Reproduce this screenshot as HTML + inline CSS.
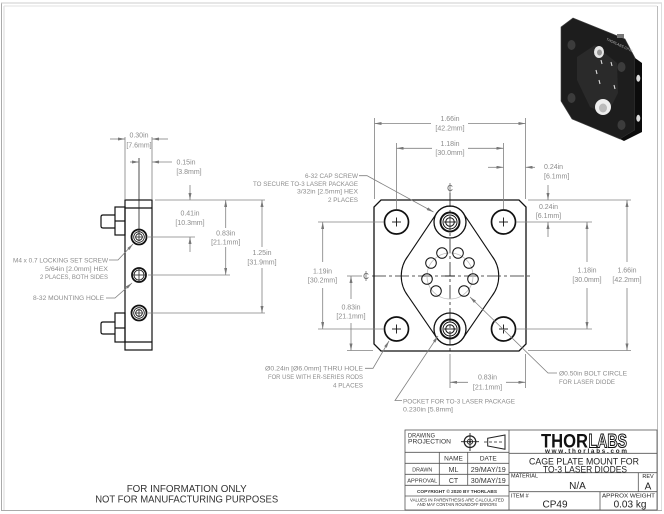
<!DOCTYPE html>
<html><head><meta charset="utf-8">
<style>
html,body{margin:0;padding:0;background:#fff;}
svg{display:block;}
text{font-family:"Liberation Sans",sans-serif;}
</style></head>
<body>
<svg width="664" height="514" viewBox="0 0 664 514" xmlns="http://www.w3.org/2000/svg">
<defs>
<marker id="a" viewBox="0 0 7 3" refX="7" refY="1.5" markerWidth="7" markerHeight="3" markerUnits="userSpaceOnUse" orient="auto"><path d="M0,0 L7,1.5 L0,3 z" fill="#777"/></marker>
</defs>
<rect width="664" height="514" fill="#fff"/>

<!-- page border -->
<line x1="1.5" y1="3" x2="1.5" y2="511" stroke="#aaa"/>
<line x1="4" y1="6" x2="4" y2="510" stroke="#d8d8d8"/>
<line x1="1" y1="3" x2="662" y2="3" stroke="#ccc"/>
<line x1="4" y1="6" x2="657" y2="6" stroke="#e2e2e2"/>
<line x1="657.5" y1="6" x2="657.5" y2="510" stroke="#bbb"/>
<line x1="661.5" y1="3" x2="661.5" y2="511" stroke="#ddd"/>
<line x1="1" y1="510.5" x2="662" y2="510.5" stroke="#aaa"/>

<!-- 3D picture -->
<g>
<polygon points="561,27 573,18 625,39 635,58 635,130 620,139 572,119 561,101" fill="#1d1d1d" stroke="#444" stroke-width="0.6"/>
<polygon points="635,58 642,63 642,132 624,141 620,139 635,130" fill="#0c0c0c"/>
<polygon points="577,57 595,45 617,63 618,93 607,115 590,107 577,80" fill="#2a2a2a"/>
<ellipse cx="571.5" cy="45" rx="4" ry="5" fill="#3c3c3c"/>
<ellipse cx="571.5" cy="98" rx="4" ry="5" fill="#3c3c3c"/>
<ellipse cx="621.5" cy="67" rx="4" ry="5" fill="#3c3c3c"/>
<ellipse cx="621.5" cy="125" rx="4" ry="5" fill="#3c3c3c"/>
<ellipse cx="599" cy="52" rx="5" ry="6" fill="#e6e6e6"/>
<ellipse cx="599.5" cy="52.5" rx="2.5" ry="3" fill="#999"/>
<ellipse cx="603" cy="107" rx="8" ry="8" fill="#eee"/>
<ellipse cx="603" cy="108" rx="4" ry="4.5" fill="#bbb"/>
<ellipse cx="638.3" cy="78.3" rx="2" ry="3.5" fill="#ddd"/>
<ellipse cx="638.3" cy="118.3" rx="2" ry="3.5" fill="#ddd"/>
<rect x="617" y="34" width="7" height="4" fill="#777"/>
<g stroke="#ddd" stroke-width="1.1">
<line x1="601" y1="60" x2="602" y2="64"/>
<line x1="596" y1="70" x2="597" y2="74"/>
<line x1="599" y1="80" x2="600" y2="84"/>
<line x1="611" y1="62" x2="612" y2="66"/>
<line x1="614" y1="85" x2="615" y2="89"/>
</g>
<text x="606" y="40" font-size="3.5" fill="#bbb" transform="rotate(25 606 40)">THORLABS CP49</text>
</g>

<!-- ===== LEFT SIDE VIEW ===== -->
<g stroke="#111" stroke-width="1.2" fill="none">
<rect x="125" y="200" width="27" height="150"/>
<line x1="125" y1="208" x2="152" y2="208"/>
<line x1="125" y1="342" x2="152" y2="342"/>
<rect x="115" y="207" width="10" height="28"/>
<line x1="115" y1="221" x2="125" y2="221"/>
<path d="M115,215 H103 Q101,215 101,217 V226 Q101,228 103,228 H115"/>
<rect x="115" y="313" width="10" height="29"/>
<line x1="115" y1="328" x2="125" y2="328"/>
<path d="M115,322 H103 Q101,322 101,324 V332 Q101,334 103,334 H115"/>
<circle cx="139" cy="237" r="7.5" stroke-width="1.8"/>
<circle cx="139" cy="237" r="5.3" stroke-width="0.8"/>
<circle cx="139" cy="237" r="3.3" stroke-width="0.8"/>
<circle cx="139" cy="313" r="7.5" stroke-width="1.8"/>
<circle cx="139" cy="313" r="5.3" stroke-width="0.8"/>
<circle cx="139" cy="313" r="3.3" stroke-width="0.8"/>
<circle cx="139" cy="275" r="7" stroke-width="1.8"/>
<circle cx="139" cy="275" r="5" stroke-width="0.8"/>
</g>
<g stroke="#222" stroke-width="0.8">
<line x1="139" y1="158" x2="139" y2="241"/>
<line x1="135" y1="237" x2="143" y2="237"/>
<line x1="135" y1="313" x2="143" y2="313"/>
<line x1="139" y1="309" x2="139" y2="317"/>
<line x1="133" y1="275" x2="145" y2="275"/>
<line x1="139" y1="269" x2="139" y2="281"/>
</g>

<!-- left view dims -->
<g stroke="#808080" stroke-width="0.8" fill="none">
<line x1="125" y1="137" x2="125" y2="199"/>
<line x1="152" y1="137" x2="152" y2="199"/>
<line x1="110" y1="139" x2="125" y2="139" marker-end="url(#a)"/>
<line x1="168" y1="139" x2="152" y2="139" marker-end="url(#a)"/>
<line x1="130" y1="162" x2="139" y2="162" marker-end="url(#a)"/>
<line x1="172" y1="162" x2="152" y2="162" marker-end="url(#a)"/>
<line x1="155" y1="200" x2="265" y2="200"/>
<line x1="148" y1="237" x2="195" y2="237"/>
<line x1="148" y1="275" x2="230" y2="275"/>
<line x1="148" y1="313" x2="265" y2="313"/>
<line x1="190" y1="185" x2="190" y2="200" marker-end="url(#a)"/>
<line x1="190" y1="252" x2="190" y2="237" marker-end="url(#a)"/>
<line x1="225.7" y1="228" x2="225.7" y2="200" marker-end="url(#a)"/>
<line x1="225.7" y1="247" x2="225.7" y2="275" marker-end="url(#a)"/>
<line x1="262" y1="247" x2="262" y2="200" marker-end="url(#a)"/>
<line x1="262" y1="268" x2="262" y2="313" marker-end="url(#a)"/>
<!-- leaders -->
<polyline points="109,260 118,260 133,244" marker-end="url(#a)"/>
<polyline points="106,298 115,298 132,283" marker-end="url(#a)"/>
</g>
<g font-size="7" fill="#8c8c8c" text-anchor="middle">
<text x="139" y="137.5">0.30in</text>
<text x="139" y="147.5">[7.6mm]</text>
<text x="186" y="164.5">0.15in</text>
<text x="189" y="174">[3.8mm]</text>
<text x="190" y="215.5">0.41in</text>
<text x="190" y="225">[10.3mm]</text>
<text x="225.7" y="235.5">0.83in</text>
<text x="225.7" y="244.5">[21.1mm]</text>
<text x="262" y="255">1.25in</text>
<text x="262" y="264.5">[31.9mm]</text>
</g>
<g font-size="6.3" fill="#8c8c8c" text-anchor="end">
<text x="108" y="262.3" textLength="95" lengthAdjust="spacingAndGlyphs">M4 x 0.7 LOCKING SET SCREW</text>
<text x="108" y="271" textLength="63" lengthAdjust="spacingAndGlyphs">5/64in [2.0mm] HEX</text>
<text x="108" y="279" textLength="68" lengthAdjust="spacingAndGlyphs">2 PLACES, BOTH SIDES</text>
<text x="104" y="300" textLength="71" lengthAdjust="spacingAndGlyphs">8-32 MOUNTING HOLE</text>
</g>

<!-- ===== FRONT VIEW ===== -->
<!-- centerlines -->
<g stroke="#222" stroke-width="0.8" stroke-dasharray="14 3 3 3" fill="none">
<line x1="450" y1="193" x2="450" y2="352"/>
<line x1="372" y1="276" x2="531" y2="276"/>
</g>
<g fill="#555" font-size="8" text-anchor="middle">
<text x="450" y="191">C</text>
<text x="366" y="279">C</text>
</g>
<g stroke="#555" stroke-width="0.7">
<line x1="450" y1="183" x2="450" y2="193"/>
<line x1="366" y1="271" x2="366" y2="281"/>
</g>

<circle cx="450" cy="276" r="23" stroke="#bbb" stroke-width="0.8" fill="none"/>

<g stroke="#111" stroke-width="1.3" fill="none">
<path d="M381,200 H519 L526,207 V344 L519,351 H381 L374,344 V207 Z"/>
<path d="M436.3,213.8 A16,16 0 0,1 463.7,213.8 L492,256 A33,33 0 0,1 492,296 L463.7,337.2 A16,16 0 0,1 436.3,337.2 L408,296 A33,33 0 0,1 408,256 Z" stroke-width="1.1"/>
<circle cx="396.5" cy="222" r="12" stroke-width="1.7"/>
<circle cx="503.5" cy="222" r="12" stroke-width="1.7"/>
<circle cx="396.5" cy="329" r="12" stroke-width="1.7"/>
<circle cx="503.5" cy="329" r="12" stroke-width="1.7"/>
<circle cx="450" cy="222" r="16"/>
<circle cx="450" cy="222" r="9.5" stroke-width="1.9"/>
<circle cx="450" cy="222" r="7" stroke-width="1"/>
<circle cx="450" cy="222" r="4.3" stroke-width="1"/>
<circle cx="450" cy="329" r="16"/>
<circle cx="450" cy="329" r="9.5" stroke-width="1.9"/>
<circle cx="450" cy="329" r="7" stroke-width="1"/>
<circle cx="450" cy="329" r="4.3" stroke-width="1"/>
<g stroke-width="1">
<circle cx="442" cy="253" r="5.3"/>
<circle cx="458" cy="253" r="5.3"/>
<circle cx="431" cy="263" r="5.3"/>
<circle cx="469" cy="263" r="5.3"/>
<circle cx="427" cy="279" r="5.3"/>
<circle cx="473" cy="279" r="5.3"/>
<circle cx="436" cy="291" r="5.3"/>
<circle cx="464" cy="291" r="5.3"/>
</g>
</g>
<g stroke="#111" stroke-width="0.9">
<line x1="392" y1="222" x2="401" y2="222"/><line x1="396.5" y1="217.5" x2="396.5" y2="226.5"/>
<line x1="499" y1="222" x2="508" y2="222"/><line x1="503.5" y1="217.5" x2="503.5" y2="226.5"/>
<line x1="392" y1="329" x2="401" y2="329"/><line x1="396.5" y1="324.5" x2="396.5" y2="333.5"/>
<line x1="499" y1="329" x2="508" y2="329"/><line x1="503.5" y1="324.5" x2="503.5" y2="333.5"/>
<line x1="444" y1="222" x2="456" y2="222"/>
<line x1="444" y1="329" x2="456" y2="329"/>
<line x1="445" y1="276" x2="455" y2="276"/>
</g>

<!-- front view dims -->
<g stroke="#808080" stroke-width="0.8" fill="none">
<line x1="374.5" y1="118" x2="374.5" y2="199"/>
<line x1="525.5" y1="118" x2="525.5" y2="199"/>
<line x1="431" y1="123.5" x2="374.5" y2="123.5" marker-end="url(#a)"/>
<line x1="468" y1="123.5" x2="525.5" y2="123.5" marker-end="url(#a)"/>
<line x1="396.5" y1="143" x2="396.5" y2="209"/>
<line x1="503.5" y1="143" x2="503.5" y2="209"/>
<line x1="432" y1="148.3" x2="396.5" y2="148.3" marker-end="url(#a)"/>
<line x1="468" y1="148.3" x2="503.5" y2="148.3" marker-end="url(#a)"/>
<line x1="488" y1="167.3" x2="503.5" y2="167.3" marker-end="url(#a)"/>
<line x1="535" y1="167.3" x2="525.5" y2="167.3" marker-end="url(#a)"/>
<!-- right -->
<line x1="528" y1="200" x2="631" y2="200"/>
<line x1="516" y1="222" x2="592" y2="222"/>
<line x1="516" y1="329" x2="592" y2="329"/>
<line x1="528" y1="350.5" x2="631" y2="350.5"/>
<line x1="548" y1="185" x2="548" y2="200" marker-end="url(#a)"/>
<line x1="548" y1="237" x2="548" y2="222" marker-end="url(#a)"/>
<line x1="587" y1="262" x2="587" y2="222" marker-end="url(#a)"/>
<line x1="587" y1="288" x2="587" y2="329" marker-end="url(#a)"/>
<line x1="627" y1="262" x2="627" y2="200" marker-end="url(#a)"/>
<line x1="627" y1="288" x2="627" y2="350.5" marker-end="url(#a)"/>
<!-- left -->
<line x1="318" y1="222" x2="384" y2="222"/>
<line x1="318" y1="329" x2="384" y2="329"/>
<line x1="347" y1="276" x2="362" y2="276"/>
<line x1="347" y1="350.5" x2="373" y2="350.5"/>
<line x1="322.7" y1="262" x2="322.7" y2="222" marker-end="url(#a)"/>
<line x1="322.7" y1="288" x2="322.7" y2="329" marker-end="url(#a)"/>
<line x1="351" y1="299" x2="351" y2="276" marker-end="url(#a)"/>
<line x1="351" y1="323" x2="351" y2="350.5" marker-end="url(#a)"/>
<!-- bottom -->
<line x1="450" y1="354" x2="450" y2="388"/>
<line x1="525.5" y1="354" x2="525.5" y2="388"/>
<line x1="468" y1="382.3" x2="450" y2="382.3" marker-end="url(#a)"/>
<line x1="506" y1="382.3" x2="525.5" y2="382.3" marker-end="url(#a)"/>
<!-- leaders -->
<polyline points="359,175.7 367,175.7 433.5,212" marker-end="url(#a)"/>
<polyline points="365,368.3 373,368.3 389,341" marker-end="url(#a)"/>
<polyline points="402,400.5 395,400.5 438,336" marker-end="url(#a)"/>
<polyline points="557,373 548,373 470,297" marker-end="url(#a)"/>
</g>
<g font-size="7" fill="#8c8c8c" text-anchor="middle">
<text x="450" y="120.8">1.66in</text>
<text x="450" y="130.3">[42.2mm]</text>
<text x="450" y="145.8">1.18in</text>
<text x="450" y="155.2">[30.0mm]</text>
<text x="548.5" y="209.2">0.24in</text>
<text x="548.5" y="218.2">[6.1mm]</text>
<text x="587" y="272.5">1.18in</text>
<text x="587" y="281.8">[30.0mm]</text>
<text x="627" y="272.5">1.66in</text>
<text x="627" y="281.8">[42.2mm]</text>
<text x="322.5" y="273.5">1.19in</text>
<text x="322.5" y="282.5">[30.2mm]</text>
<text x="351" y="309.5">0.83in</text>
<text x="351" y="318.5">[21.1mm]</text>
<text x="487.5" y="379.5">0.83in</text>
<text x="487.5" y="389.5">[21.1mm]</text>
<text x="544" y="169.2" text-anchor="start">0.24in</text>
<text x="544" y="178.5" text-anchor="start">[6.1mm]</text>
</g>
<g font-size="6.3" fill="#8c8c8c" text-anchor="end">
<text x="358" y="178" textLength="53" lengthAdjust="spacingAndGlyphs">6-32 CAP SCREW</text>
<text x="358" y="186" textLength="105" lengthAdjust="spacingAndGlyphs">TO SECURE TO-3 LASER PACKAGE</text>
<text x="358" y="193.6" textLength="61" lengthAdjust="spacingAndGlyphs">3/32in [2.5mm] HEX</text>
<text x="358" y="201.8" textLength="30" lengthAdjust="spacingAndGlyphs">2 PLACES</text>
<text x="363" y="370.6" textLength="98" lengthAdjust="spacingAndGlyphs">Ø0.24in [Ø6.0mm] THRU HOLE</text>
<text x="363" y="379" textLength="95" lengthAdjust="spacingAndGlyphs">FOR USE WITH ER-SERIES RODS</text>
<text x="363" y="387.3" textLength="30" lengthAdjust="spacingAndGlyphs">4 PLACES</text>
</g>
<g font-size="6.3" fill="#8c8c8c">
<text x="403" y="403.3" textLength="112" lengthAdjust="spacingAndGlyphs">POCKET FOR TO-3 LASER PACKAGE</text>
<text x="403" y="411.5" textLength="50" lengthAdjust="spacingAndGlyphs">0.230in [5.8mm]</text>
<text x="559" y="375.3" textLength="68" lengthAdjust="spacingAndGlyphs">Ø0.50in BOLT CIRCLE</text>
<text x="559" y="384" textLength="56" lengthAdjust="spacingAndGlyphs">FOR LASER DIODE</text>
</g>

<!-- footer note -->
<g font-size="10" fill="#333" text-anchor="middle">
<text x="186.7" y="492" textLength="120" lengthAdjust="spacingAndGlyphs">FOR INFORMATION ONLY</text>
<text x="186.7" y="502.6" textLength="183" lengthAdjust="spacingAndGlyphs">NOT FOR MANUFACTURING PURPOSES</text>
</g>

<!-- ===== TITLE BLOCK ===== -->
<g stroke="#555" stroke-width="0.8" fill="none">
<rect x="405" y="430" width="252" height="80"/>
<line x1="509" y1="430" x2="509" y2="510"/>
<line x1="405" y1="452.3" x2="509" y2="452.3"/>
<line x1="405" y1="463.3" x2="509" y2="463.3"/>
<line x1="405" y1="474.3" x2="509" y2="474.3"/>
<line x1="405" y1="485.3" x2="509" y2="485.3"/>
<line x1="405" y1="496" x2="509" y2="496"/>
<line x1="439.3" y1="452.3" x2="439.3" y2="485.3"/>
<line x1="467.7" y1="452.3" x2="467.7" y2="485.3"/>
<line x1="509" y1="453.3" x2="657" y2="453.3"/>
<line x1="509" y1="472.7" x2="657" y2="472.7"/>
<line x1="509" y1="491.7" x2="657" y2="491.7"/>
<line x1="638.3" y1="472.7" x2="638.3" y2="491.7"/>
<line x1="600" y1="491.7" x2="600" y2="510"/>
</g>
<!-- projection symbol -->
<g stroke="#222" fill="none" stroke-width="0.9">
<circle cx="470" cy="441.7" r="5.8" stroke-width="1.2"/>
<circle cx="470" cy="441.7" r="2.6"/>
<line x1="461" y1="441.7" x2="479" y2="441.7"/>
<line x1="470" y1="433" x2="470" y2="451"/>
<path d="M487.7,438.3 L505,435 L505,449.3 L487.7,446 Z" stroke-width="1"/>
<line x1="484" y1="442" x2="502" y2="442" stroke-dasharray="3 2" stroke-width="0.7"/>
</g>
<circle cx="470" cy="441.7" r="1.2" fill="#222"/>
<g fill="#333" font-size="6.5">
<text x="408" y="437.6" textLength="27" lengthAdjust="spacingAndGlyphs">DRAWING</text>
<text x="408" y="443.6" textLength="43" lengthAdjust="spacingAndGlyphs">PROJECTION</text>
</g>
<g fill="#333" text-anchor="middle">
<text x="453.5" y="460.3" font-size="6.5">NAME</text>
<text x="488.3" y="460.3" font-size="6.5">DATE</text>
<text x="422.3" y="471.6" font-size="5" textLength="20" lengthAdjust="spacingAndGlyphs">DRAWN</text>
<text x="453.5" y="471.8" font-size="7">ML</text>
<text x="488.3" y="471.8" font-size="7.5" textLength="35" lengthAdjust="spacingAndGlyphs">29/MAY/19</text>
<text x="422.3" y="482.6" font-size="5" textLength="30" lengthAdjust="spacingAndGlyphs">APPROVAL</text>
<text x="453.5" y="482.8" font-size="7">CT</text>
<text x="488.3" y="482.8" font-size="7.5" textLength="35" lengthAdjust="spacingAndGlyphs">30/MAY/19</text>
<text x="457" y="492.8" font-size="4.6" font-weight="bold" textLength="80" lengthAdjust="spacingAndGlyphs">COPYRIGHT © 2020 BY THORLABS</text>
<text x="457" y="501.7" font-size="4.4" textLength="94" lengthAdjust="spacingAndGlyphs">VALUES IN PARENTHESIS ARE CALCULATED</text>
<text x="457" y="506" font-size="4.4" textLength="80" lengthAdjust="spacingAndGlyphs">AND MAY CONTAIN ROUNDOFF ERRORS</text>
</g>
<!-- logo -->
<text x="541" y="447.5" font-size="19" font-weight="bold" fill="#111" textLength="47" lengthAdjust="spacingAndGlyphs">THOR</text>
<text x="588.5" y="447.5" font-size="19" font-weight="bold" fill="#fff" stroke="#111" stroke-width="1.1" textLength="38.5" lengthAdjust="spacingAndGlyphs">LABS</text>
<text x="545" y="453.2" font-size="6.3" font-weight="bold" fill="#222" textLength="82" lengthAdjust="spacing">www.thorlabs.com</text>
<g fill="#222" text-anchor="middle">
<text x="584" y="464.5" font-size="9.5" textLength="110" lengthAdjust="spacingAndGlyphs">CAGE PLATE MOUNT FOR</text>
<text x="585" y="472.3" font-size="9.5" textLength="84" lengthAdjust="spacingAndGlyphs">TO-3 LASER DIODES</text>
<text x="577.5" y="489" font-size="10">N/A</text>
<text x="648" y="489.5" font-size="10">A</text>
<text x="555" y="507.5" font-size="10">CP49</text>
<text x="630" y="507.5" font-size="10">0.03 kg</text>
<text x="648" y="478" font-size="5.5">REV</text>
<text x="628.5" y="497.6" font-size="5.5" textLength="53" lengthAdjust="spacingAndGlyphs">APPROX WEIGHT</text>
</g>
<g fill="#222" font-size="5.5">
<text x="511" y="477.6" textLength="27" lengthAdjust="spacingAndGlyphs">MATERIAL</text>
<text x="511" y="497.6">ITEM #</text>
</g>
</svg>
</body></html>
